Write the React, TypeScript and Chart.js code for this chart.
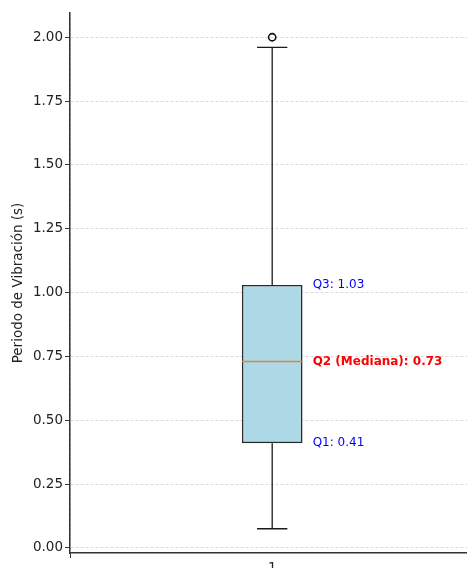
import React, { useEffect, useRef } from "react";
import { Chart, registerables } from "chart.js";

Chart.register(...registerables);

// ---- data ----
const categories = ["1"];
const positions = [1];
const q1Values = [0.41];
const medianValues = [0.73];
const q3Values = [1.03];
const whiskerLow = [0.075];
const whiskerHigh = [1.96];
const outliers = [2.0];
const yTicks = [0, 0.25, 0.5, 0.75, 1.0, 1.25, 1.5, 1.75, 2.0];
const annotationLabels = [
  { text: "Q3: 1.03", value: 1.03, color: "#0000ff", bold: false },
  { text: "Q2 (Mediana): 0.73", value: 0.73, color: "#ff0000", bold: true },
  { text: "Q1: 0.41", value: 0.41, color: "#0000ff", bold: false },
];

const BOX_WIDTH = 0.15;
const FONT = "'DejaVu Sans', sans-serif";

export default function App() {
  const ref = useRef<HTMLCanvasElement | null>(null);

  useEffect(() => {
    if (!ref.current) return;
    const pos = positions[0];
    const half = BOX_WIDTH / 2;
    const capHalf = BOX_WIDTH / 4;

    const lineDs = (data: any[], color: string, width: number) => ({
      type: "line" as const,
      data,
      borderColor: color,
      borderWidth: width,
      pointRadius: 0,
      fill: false,
      order: 1,
      tension: 0,
    });

    const annotationPlugin = {
      id: "annot",
      afterDatasetsDraw(chart: any) {
        const { ctx, scales } = chart;
        ctx.save();
        ctx.textAlign = "left";
        ctx.textBaseline = "middle";
        annotationLabels.forEach((a) => {
          ctx.font = `${a.bold ? "bold " : ""}12px ${FONT}`;
          ctx.fillStyle = a.color;
          ctx.fillText(a.text, scales.x.getPixelForValue(pos + 0.1), scales.y.getPixelForValue(a.value));
        });
        ctx.restore();
      },
    };

    const chart = new Chart(ref.current, {
      type: "bar",
      data: {
        datasets: [
          {
            type: "bar",
            data: positions.map((p, i) => ({ x: p, y: [q1Values[i], q3Values[i]] })) as any,
            backgroundColor: "#add8e6",
            borderColor: "#2a2a2a",
            borderWidth: 1.6,
            borderSkipped: false,
            categoryPercentage: 1,
            barPercentage: BOX_WIDTH,
            order: 2,
          } as any,
          lineDs([{ x: pos, y: q3Values[0] }, { x: pos, y: whiskerHigh[0] }], "#1a1a1a", 1.3),
          lineDs([{ x: pos, y: q1Values[0] }, { x: pos, y: whiskerLow[0] }], "#1a1a1a", 1.3),
          lineDs([{ x: pos - capHalf, y: whiskerHigh[0] }, { x: pos + capHalf, y: whiskerHigh[0] }], "#1a1a1a", 1.3),
          lineDs([{ x: pos - capHalf, y: whiskerLow[0] }, { x: pos + capHalf, y: whiskerLow[0] }], "#1a1a1a", 1.3),
          lineDs([{ x: pos - half, y: medianValues[0] }, { x: pos + half, y: medianValues[0] }], "#e8803a", 1.5),
          {
            type: "scatter",
            data: outliers.map((v) => ({ x: pos, y: v })),
            pointRadius: 3.6,
            pointBorderWidth: 1.6,
            pointBorderColor: "#111",
            pointBackgroundColor: "rgba(255,255,255,0)",
            order: 0,
          } as any,
        ],
      },
      options: {
        animation: false,
        responsive: false,
        events: [],
        layout: { padding: { top: 13, right: 5, left: 0, bottom: 0 } },
        plugins: { legend: { display: false }, tooltip: { enabled: false } },
        scales: {
          x: {
            type: "linear",
            min: 0.5,
            max: 1.5,
            offset: false,
            afterBuildTicks: (s: any) => {
              s.ticks = positions.map((p) => ({ value: p }));
            },
            afterFit: (s: any) => {
              s.height = 47;
            },
            ticks: {
              color: "#222",
              font: { family: FONT, size: 13.5 },
              padding: 2,
              callback: (v: any) => {
                const i = positions.indexOf(Number(v));
                return i >= 0 ? categories[i] : "";
              },
            },
            grid: {
              color: "#d0d0d0",
              lineWidth: 0.8,
              tickColor: "#333",
              tickLength: 5,
              tickWidth: 1,
            },
            border: { display: true, color: "#333", width: 1.5, dash: [3, 2] },
          },
          y: {
            type: "linear",
            min: -0.02,
            max: 2.095,
            afterBuildTicks: (s: any) => {
              s.ticks = yTicks.map((v) => ({ value: v }));
            },
            afterFit: (s: any) => {
              s.width = 70;
            },
            ticks: {
              color: "#222",
              font: { family: FONT, size: 13.5 },
              padding: 2,
              callback: (v: any) => Number(v).toFixed(2),
            },
            grid: {
              color: "#d0d0d0",
              lineWidth: 0.8,
              tickColor: "#333",
              tickLength: 5,
              tickWidth: 1,
            },
            border: { display: true, color: "#333", width: 1.5, dash: [3, 2] },
            title: {
              display: true,
              text: "Periodo de Vibración (s)",
              color: "#222",
              font: { family: FONT, size: 13.5 },
              padding: { top: 10, bottom: 0 },
            },
          },
        },
      },
      plugins: [annotationPlugin],
    } as any);

    return () => chart.destroy();
  }, []);

  return (
    <div
      style={{
        position: "fixed",
        left: 0,
        top: 0,
        width: 467,
        height: 568,
        overflow: "hidden",
        background: "#fff",
      }}
    >
      <canvas ref={ref} width={480} height={600} style={{ width: 480, height: 600 }} />
    </div>
  );
}
